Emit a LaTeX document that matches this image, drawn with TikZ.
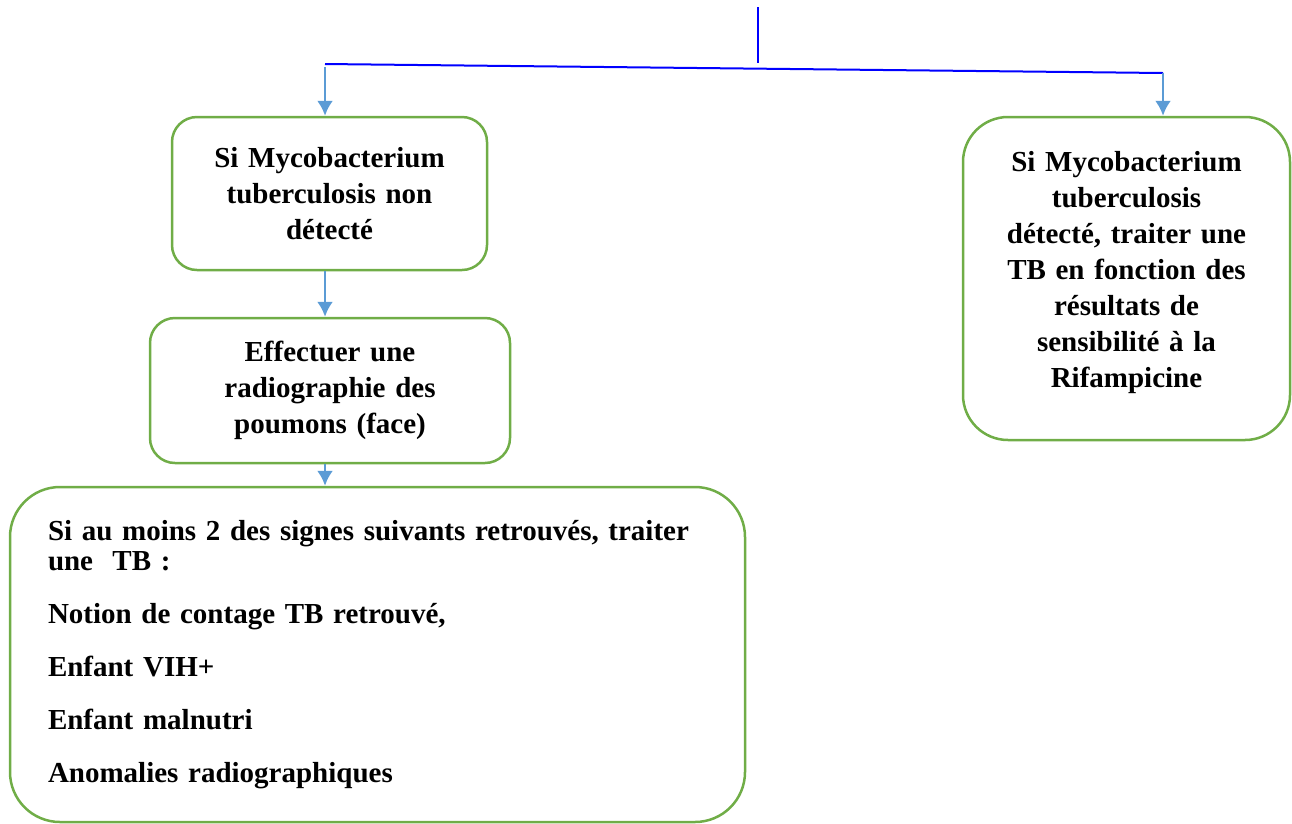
\documentclass[tikz,border=0pt]{standalone}
\usepackage{fontspec}
\setmainfont{Liberation Serif}
\usetikzlibrary{arrows.meta}
\definecolor{boxgreen}{RGB}{112,173,71}
\definecolor{arrowblue}{RGB}{91,155,213}
\tikzset{
  box/.style={draw=boxgreen,line width=2.5pt,align=center,font=\bfseries\fontsize{29}{36}\selectfont},
  arrowline/.style={-{Latex[length=15pt,width=16pt]},arrowblue,line width=2.5pt},
  link/.style={blue,line width=2pt}
}

\begin{document}
\begin{tikzpicture}[x=1pt,y=-1pt]
  \useasboundingbox (0,0) rectangle (1292,823);
  \node[box,rounded corners=25pt,minimum width=315pt,minimum height=153pt,text width=300pt] (b1) at (329.5,193.5)
    {Si Mycobacterium\\ tuberculosis non\\ détecté};
  \node[box,rounded corners=45pt,minimum width=327pt,minimum height=323pt,text width=310pt] (b2) at (1126.5,278.5)
    {Si Mycobacterium\\ tuberculosis\\ détecté, traiter une\\ TB en fonction des\\ résultats de\\ sensibilité à la\\ Rifampicine\\[-18pt]\mbox{}};
  \node[box,rounded corners=25pt,minimum width=360pt,minimum height=145pt,text width=340pt] (b3) at (330,390.5)
    {Effectuer une\\ radiographie des\\ poumons (face)};
  \node[box,rounded corners=50pt,minimum width=735pt,minimum height=335pt,inner sep=0pt,text width=659pt,align=left,
        font=\bfseries\fontsize{29}{30}\selectfont] (b4) at (377.5,654.5)
    {Si au moins 2 des signes suivants retrouvés, traiter\\ une\ \ TB :\\[23pt]
     Notion de contage TB retrouvé,\\[23pt]
     Enfant VIH+\\[23pt]
     Enfant malnutri\\[23pt]
     Anomalies radiographiques};
  % branchement
  \coordinate (top) at (758,7);
  \coordinate (mid) at (758,63);
  \coordinate (hl) at (325,64);
  \coordinate (hr) at (1163,73);
  \draw[link] (top) -- (mid);
  \draw[link] (hl) -- (hr);
  \draw[arrowline] ([yshift=-3pt]hl) -- (hl |- b1.north);
  \draw[arrowline] (hr) -- (hr |- b2.north);
  \draw[arrowline] (b1.south -| hl) -- (b3.north -| hl);
  \draw[arrowline] (b3.south -| hl) -- (b4.north -| hl);
\end{tikzpicture}
\end{document}
